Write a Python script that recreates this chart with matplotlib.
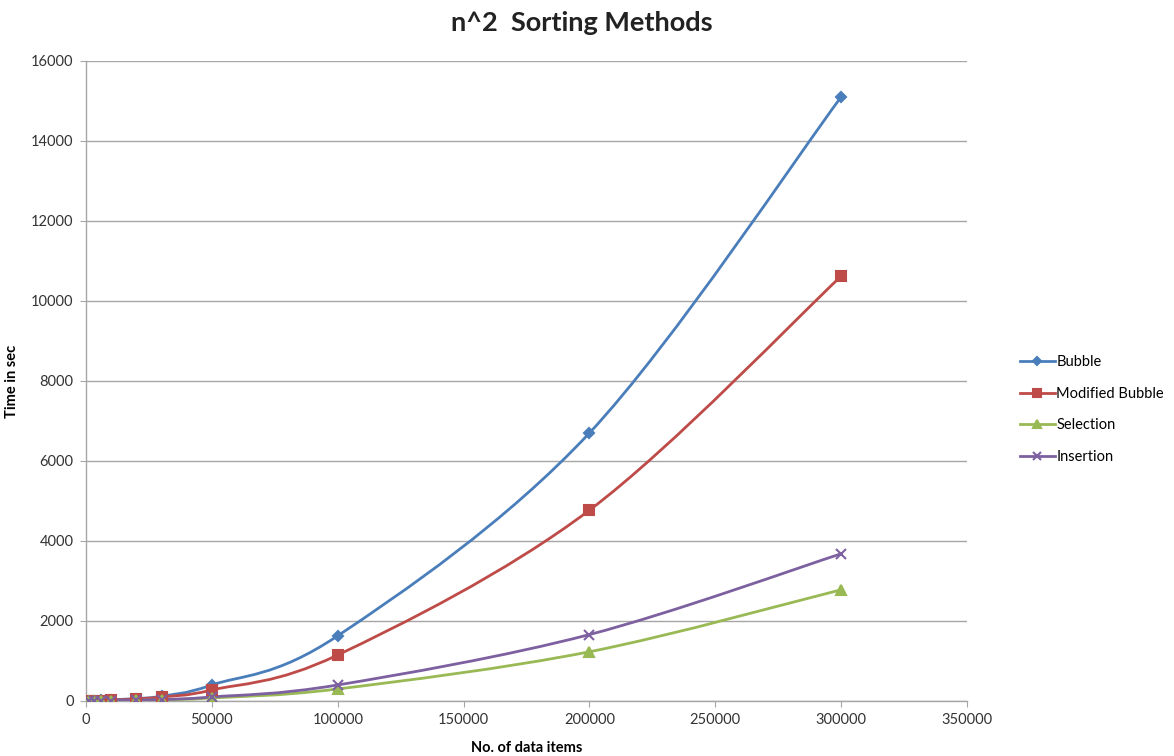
import numpy as np
import matplotlib
matplotlib.use("Agg")
import matplotlib.pyplot as plt
from matplotlib.path import Path
from matplotlib.patches import PathPatch
from matplotlib.lines import Line2D

plt.rcParams['font.family'] = ['Lato', 'DejaVu Sans']

# number of data items
n_items = [1000, 3000, 6000, 10000, 20000, 30000, 50000, 100000, 200000, 300000]

# run times in seconds
bubble = [1, 5, 15, 30, 60, 120, 400, 1630, 6700, 15100]
modified_bubble = [1, 4, 10, 20, 50, 100, 275, 1150, 4770, 10620]
selection = [0, 1, 3, 6, 15, 25, 75, 300, 1230, 2780]
insertion = [0, 1, 3, 8, 20, 35, 100, 400, 1660, 3680]

series = [
    ("Bubble", bubble, "#4A7EBB", "D", 5),
    ("Modified Bubble", modified_bubble, "#BE4B48", "s", 7),
    ("Selection", selection, "#98B954", "^", 7),
    ("Insertion", insertion, "#7D60A0", "x", 7),
]


def smooth_path(x, y):
    # Bezier segments through every point, Catmull-Rom style tangents
    p = np.column_stack([x, y]).astype(float)
    n = len(p)
    verts = [p[0]]
    codes = [Path.MOVETO]
    for i in range(n - 1):
        p0 = p[i - 1] if i > 0 else p[i]
        p1 = p[i]
        p2 = p[i + 1]
        p3 = p[i + 2] if i + 2 < n else p[i + 1]
        c1 = p1 + (p2 - p0) / 6.0
        c2 = p2 - (p3 - p1) / 6.0
        verts += [c1, c2, p2]
        codes += [Path.CURVE4] * 3
    return Path(verts, codes)


fig = plt.figure(figsize=(11.74, 7.56), dpi=100)
ax = fig.add_axes([0.0733, 0.0728, 0.7504, 0.8466])

handles = []
for name, vals, col, mk, ms in series:
    patch = PathPatch(smooth_path(n_items, vals), facecolor="none",
                      edgecolor=col, lw=2.0, zorder=3)
    ax.add_patch(patch)
    ax.plot(n_items, vals, ls="none", marker=mk, color=col, ms=ms,
            mew=1.5, zorder=4)
    handles.append(Line2D([], [], color=col, lw=2.0, marker=mk, ms=ms - 1,
                          mew=1.5))

ax.set_xlim(0, 350000)
ax.set_ylim(0, 16000)
ax.set_xticks(np.arange(0, 350001, 50000))
ax.set_yticks(np.arange(0, 16001, 2000))
ax.grid(axis="y", color="#A6A6A6", lw=1.0)
ax.set_axisbelow(True)
for s in ["top", "right"]:
    ax.spines[s].set_visible(False)
for s in ["left", "bottom"]:
    ax.spines[s].set_color("#A6A6A6")
    ax.spines[s].set_linewidth(1.0)
ax.tick_params(axis="both", colors="#A6A6A6", labelcolor="#333333",
               labelsize=10.5, length=4, pad=5)

fig.text(0.496, 0.969, "n^2  Sorting Methods", fontsize=19.5,
         fontweight="bold", color="#222222", ha="center", va="center")
ax.set_xlabel("No. of data items", fontsize=10.5, fontweight="bold", labelpad=10)
ax.set_ylabel("Time in sec", fontsize=10.5, fontweight="bold", labelpad=9)

ax.legend(handles, [s[0] for s in series], loc="center left",
          bbox_to_anchor=(1.045, 0.455), frameon=False, fontsize=10.5,
          handlelength=2.4, handletextpad=0.1, labelspacing=1.2)

fig.savefig("out.png", dpi=100)
